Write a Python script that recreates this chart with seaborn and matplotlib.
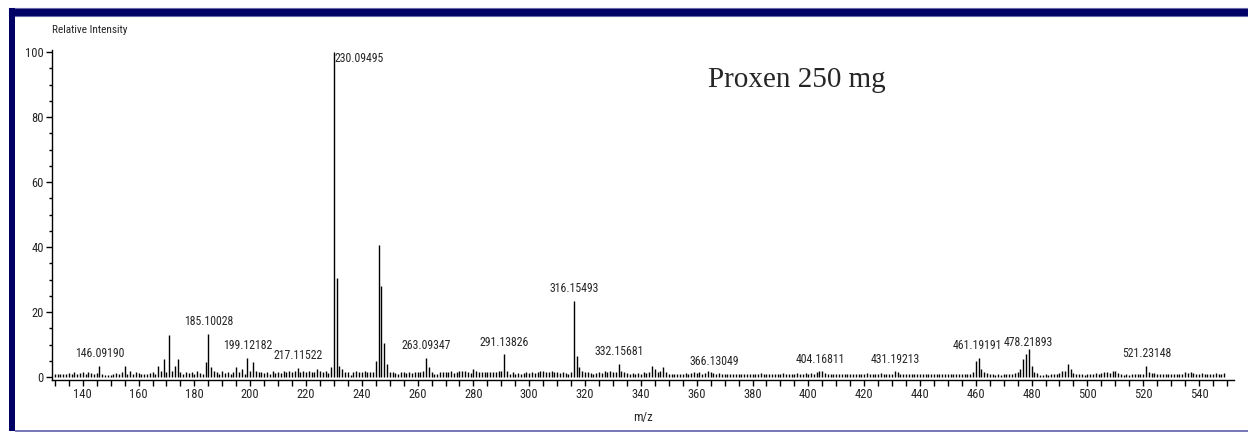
import numpy as np
import pandas as pd
import matplotlib
matplotlib.use("Agg")
import matplotlib.pyplot as plt
from matplotlib.patches import Rectangle
from matplotlib.ticker import MultipleLocator
from matplotlib import font_manager
import seaborn as sns

# nominal m/z, one stick per unit mass from 130 to 549
mz_start = 130
# estimated relative intensities, 10 per row (130-139, 140-149, ...)
intensity = [
    1.0, 0.8, 1.0, 0.8, 1.0, 1.2, 0.8, 1.5, 1.0, 1.2,
    1.5, 1.0, 1.5, 1.2, 1.0, 1.2, 3.5, 1.0, 0.6, 0.5,
    0.6, 1.0, 1.2, 1.0, 1.5, 3.5, 1.0, 2.0, 1.0, 1.5,
    1.2, 1.0, 1.0, 1.0, 1.2, 1.5, 1.0, 3.5, 2.0, 5.5,
    1.5, 12.8, 2.0, 3.5, 5.5, 1.5, 1.0, 1.5, 1.2, 1.5,
    1.0, 1.8, 1.2, 1.0, 4.5, 13.3, 3.0, 2.0, 1.5, 1.0,
    2.0, 1.2, 1.5, 1.0, 1.5, 3.0, 1.5, 2.5, 1.0, 6.0,
    2.0, 4.5, 2.0, 1.5, 1.5, 1.2, 1.5, 1.0, 2.0, 1.2,
    1.5, 1.2, 2.0, 1.5, 1.8, 1.5, 2.0, 2.8, 1.5, 2.0,
    1.5, 1.8, 1.5, 1.5, 2.5, 1.8, 1.5, 2.0, 1.2, 3.0,
    100.0, 30.5, 3.5, 2.5, 1.5, 1.5, 0.6, 1.5, 1.8, 1.5,
    1.5, 2.0, 1.5, 1.5, 1.5, 5.0, 40.5, 28.0, 10.5, 4.0,
    1.5, 1.5, 1.2, 1.0, 1.5, 1.5, 1.2, 1.5, 1.2, 1.5,
    1.5, 1.5, 2.0, 6.0, 3.0, 1.5, 1.0, 1.0, 1.5, 1.5,
    1.5, 1.5, 2.0, 1.2, 1.5, 2.0, 1.8, 2.0, 1.5, 1.2,
    2.5, 2.0, 1.5, 1.5, 1.5, 1.5, 1.5, 1.5, 1.5, 2.0,
    1.8, 7.0, 2.0, 1.0, 1.5, 1.0, 1.2, 1.0, 1.2, 1.5,
    1.2, 1.5, 1.2, 1.5, 1.8, 2.0, 1.5, 1.5, 1.8, 1.5,
    1.5, 1.2, 1.5, 1.2, 1.0, 1.5, 23.5, 6.5, 3.0, 1.8,
    1.5, 1.5, 1.2, 1.0, 1.2, 1.5, 1.2, 1.8, 1.5, 2.0,
    1.5, 1.5, 4.0, 1.8, 1.5, 1.2, 1.0, 1.2, 1.0, 1.2,
    1.0, 1.5, 1.2, 1.5, 3.5, 2.5, 1.5, 1.8, 3.0, 1.5,
    1.0, 1.0, 1.0, 1.0, 1.0, 1.0, 1.2, 1.0, 1.2, 1.5,
    1.2, 1.5, 1.0, 1.2, 2.0, 1.5, 1.2, 1.0, 1.2, 1.0,
    1.0, 0.8, 1.0, 0.8, 1.0, 1.0, 0.8, 1.0, 0.8, 1.0,
    1.0, 0.8, 1.0, 1.2, 1.0, 0.8, 1.0, 1.0, 0.8, 1.0,
    1.0, 1.2, 1.0, 0.8, 1.0, 1.0, 1.2, 1.0, 1.0, 1.2,
    1.0, 1.2, 1.0, 1.5, 1.8, 1.8, 1.2, 1.0, 1.0, 0.8,
    1.0, 0.8, 1.0, 0.8, 1.0, 1.0, 0.8, 1.0, 0.8, 1.0,
    1.0, 1.2, 1.0, 0.8, 1.0, 1.0, 1.2, 1.0, 1.0, 1.0,
    1.0, 1.8, 1.5, 1.0, 1.0, 0.8, 1.0, 0.8, 1.0, 1.0,
    0.8, 1.0, 1.0, 0.8, 1.0, 1.0, 0.8, 1.0, 1.0, 0.8,
    1.0, 0.8, 1.0, 1.0, 0.8, 1.0, 1.0, 0.8, 1.0, 1.5,
    5.0, 6.0, 2.5, 1.5, 1.2, 1.0, 0.8, 0.6, 0.8, 0.6,
    0.8, 1.0, 0.8, 1.0, 1.2, 1.5, 2.5, 5.5, 7.0, 8.5,
    3.5, 1.5, 1.2, 0.6, 0.6, 0.8, 0.6, 0.8, 1.0, 1.0,
    1.2, 2.0, 2.0, 4.0, 2.5, 1.2, 1.0, 0.8, 0.8, 0.6,
    0.8, 1.0, 1.0, 1.2, 1.0, 1.2, 1.5, 1.5, 1.2, 1.8,
    1.8, 1.2, 0.8, 0.6, 0.8, 0.6, 0.8, 0.8, 1.0, 1.0,
    1.0, 3.5, 1.5, 1.2, 1.2, 1.0, 1.0, 1.0, 0.8, 1.0,
    0.8, 1.0, 1.0, 0.8, 1.0, 1.5, 1.2, 1.5, 1.2, 1.0,
    1.0, 1.2, 1.0, 1.0, 0.8, 1.0, 1.2, 1.0, 1.0, 1.2,
]

# annotated peaks: exact mass, label
label_mz = [146.09190, 185.10028, 199.12182, 217.11522, 230.09495,
            263.09347, 291.13826, 316.15493, 332.15681, 366.13049,
            404.16811, 431.19213, 461.19191, 478.21893, 521.23148]
label_text = ["146.09190", "185.10028", "199.12182", "217.11522", "230.09495",
              "263.09347", "291.13826", "316.15493", "332.15681", "366.13049",
              "404.16811", "431.19213", "461.19191", "478.21893", "521.23148"]

spec = pd.DataFrame({"mz": mz_start + np.arange(len(intensity)),
                     "rel": intensity})

sns.set_style("ticks")

# look for a condensed sans face, otherwise use a smaller regular one
names = {f.name for f in font_manager.fontManager.ttflist}
narrow = None
for cand in ["Liberation Sans Narrow", "Roboto Condensed", "DejaVu Sans Condensed",
             "Open Sans Condensed", "Noto Sans Condensed"]:
    if cand in names:
        narrow = cand
        break
cond = [f for f in font_manager.fontManager.ttflist
        if f.name in ("DejaVu Sans", "Roboto", "Noto Sans", "Open Sans")
        and f.stretch in ("condensed", "semi-condensed", 600, 500) and f.style == "normal"]
if narrow is None and cond:
    narrow = cond[0].name
    plt.rcParams["font.stretch"] = cond[0].stretch
    fs_lab, fs_tick = 8.2, 9
elif narrow is not None:
    fs_lab, fs_tick = 8.5, 9
else:
    narrow = "Liberation Sans"
    fs_lab, fs_tick = 7.2, 8
plt.rcParams["font.family"] = [narrow, "Liberation Sans", "DejaVu Sans"]

fig = plt.figure(figsize=(12.48, 4.33), dpi=100)
ax = fig.add_axes([0.0417, 0.1233, 0.947, 0.7603])

ax.vlines(spec["mz"], 0, spec["rel"], color="black", linewidth=1.0)

ax.set_xlim(129, 552.5)
ax.set_ylim(-0.8, 100.5)
ax.xaxis.set_minor_locator(MultipleLocator(5))
ax.yaxis.set_major_locator(MultipleLocator(20))
ax.yaxis.set_minor_locator(MultipleLocator(5))
ax.set_xticks(np.arange(140, 541, 20))
ax.tick_params(axis="both", which="major", length=4, width=1, labelsize=fs_tick,
               pad=2, color="black")
ax.tick_params(axis="x", which="minor", length=4, width=1, color="black")
ax.tick_params(axis="y", which="minor", length=2, width=1, color="black")
sns.despine(ax=ax)
for s in ["left", "bottom"]:
    ax.spines[s].set_color("black")
    ax.spines[s].set_linewidth(1.0)
ax.grid(False)

ax.set_xlabel("m/z", fontsize=fs_tick, labelpad=7)

# peak labels (small sideways nudges where two labels meet)
nudge = {"461.19191": -1.5, "478.21893": 1.0}
heights = dict(zip(spec["mz"], spec["rel"]))
for m, t in zip(label_mz, label_text):
    h = heights[int(round(m))]
    if h >= 99:
        ax.annotate(t, (m, h), xytext=(0.5, 0), textcoords="offset points",
                    ha="left", va="top", fontsize=fs_lab)
    else:
        ax.annotate(t, (m, h), xytext=(nudge.get(t, 0), 4), textcoords="offset points",
                    ha="center", va="bottom", fontsize=fs_lab)

fig.text(52 / 1248, 1 - 30 / 433, "Relative Intensity", fontsize=fs_tick * 0.9,
         ha="left", va="center")
fig.text(797 / 1248, 1 - 80 / 433, "Proxen 250 mg", fontsize=21,
         ha="center", va="center", family=["Liberation Serif", "DejaVu Serif"],
         fontstretch="normal")

# navy frame
navy = "#000066"
fig.patches.append(Rectangle((9 / 1248, 1 - 16 / 433), 1 - 9 / 1248, 8 / 433,
                             transform=fig.transFigure, facecolor=navy,
                             edgecolor="#6a6aaa", linewidth=0.8))
fig.patches.append(Rectangle((9 / 1248, 2 / 433), 6 / 1248, 1 - 10 / 433,
                             transform=fig.transFigure, facecolor=navy,
                             edgecolor="none"))
fig.patches.append(Rectangle((15 / 1248, 1.5 / 433), 1, 1.2 / 433,
                             transform=fig.transFigure, facecolor="#7a7abb",
                             edgecolor="none"))

fig.savefig("out.png", dpi=100)
